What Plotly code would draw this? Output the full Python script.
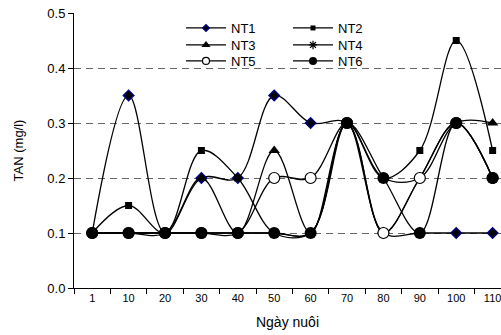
import plotly.graph_objects as go

days = ["1", "10", "20", "30", "40", "50", "60", "70", "80", "90", "100", "110"]
nt1 = [0.10, 0.35, 0.10, 0.20, 0.20, 0.35, 0.30, 0.30, 0.10, 0.10, 0.10, 0.10]
nt2 = [0.10, 0.15, 0.10, 0.25, 0.20, 0.10, 0.10, 0.30, 0.20, 0.25, 0.45, 0.25]
nt3 = [0.10, 0.10, 0.10, 0.20, 0.10, 0.25, 0.10, 0.30, 0.20, 0.20, 0.30, 0.30]
nt4 = [0.10, 0.10, 0.10, 0.10, 0.10, 0.10, 0.10, 0.30, 0.10, 0.20, 0.30, 0.20]
nt5 = [0.10, 0.10, 0.10, 0.10, 0.10, 0.20, 0.20, 0.30, 0.10, 0.20, 0.30, 0.20]
nt6 = [0.10, 0.10, 0.10, 0.10, 0.10, 0.10, 0.10, 0.30, 0.20, 0.10, 0.30, 0.20]
y_ticks = [0.0, 0.1, 0.2, 0.3, 0.4, 0.5]

FONT = "Liberation Sans, Arial, sans-serif"

# name, values, marker (plot), marker (legend), legend row
series = [
    ("NT1", nt1, dict(symbol="diamond", size=8, color="black", line=dict(color="#000080", width=1.5)),
     dict(symbol="diamond", size=5, color="black", line=dict(color="#000080", width=1.5)), "legend"),
    ("NT2", nt2, dict(symbol="square", size=7, color="black", line=dict(color="black", width=0)),
     dict(symbol="square", size=5, color="black", line=dict(color="black", width=0)), "legend"),
    ("NT3", nt3, dict(symbol="triangle-up", size=10, color="black", line=dict(color="black", width=0)),
     dict(symbol="triangle-up", size=8, color="black", line=dict(color="black", width=0)), "legend2"),
    ("NT4", nt4, dict(symbol="asterisk-open", size=9, color="black", line=dict(color="black", width=1.2)),
     dict(symbol="asterisk-open", size=7, color="black", line=dict(color="black", width=1.2)), "legend2"),
    ("NT5", nt5, dict(symbol="circle", size=11, color="white", line=dict(color="black", width=1.2)),
     dict(symbol="circle", size=7, color="white", line=dict(color="black", width=1.2)), "legend3"),
    ("NT6", nt6, dict(symbol="circle", size=12, color="black", line=dict(color="black", width=0)),
     dict(symbol="circle", size=8, color="black", line=dict(color="black", width=0)), "legend3"),
]

LINE = dict(color="black", width=1.3, shape="spline", smoothing=1.0)

fig = go.Figure()
for name, vals, mk, mk_leg, lg in series:
    fig.add_trace(go.Scatter(
        x=days, y=vals, name=name, mode="lines+markers",
        line=LINE, marker=mk, showlegend=False, cliponaxis=False,
    ))
for name, vals, mk, mk_leg, lg in series:
    fig.add_trace(go.Scatter(
        x=[None], y=[None], name=name, mode="lines+markers",
        line=dict(color="black", width=1.3), marker=mk_leg, legend=lg, showlegend=True,
    ))

# white box behind legend hiding part of the 0.4 gridline
fig.add_shape(type="rect", xref="paper", yref="paper", layer="between",
              x0=(160 - 74) / 427, x1=(383 - 74) / 427, y0=0.72, y1=0.99,
              fillcolor="white", line=dict(width=0))

def leg(ycenter):
    return dict(orientation="h", x=(181 - 74) / 427, y=1 - (ycenter - 13) / 275,
                xanchor="left", yanchor="middle",
                bgcolor="rgba(0,0,0,0)", font=dict(size=13, family=FONT),
                itemwidth=40, entrywidthmode="pixels", entrywidth=52,
                tracegroupgap=0)

fig.update_layout(
    width=501, height=335,
    margin=dict(l=74, r=0, t=13, b=47),
    paper_bgcolor="white", plot_bgcolor="white",
    font=dict(family=FONT, color="black"),
    showlegend=True,
    legend=leg(28), legend2=leg(45), legend3=leg(61),
)

fig.update_xaxes(
    type="category", range=[-0.5, 11.23],
    showline=True, linecolor="black", linewidth=1,
    ticks="outside", tickson="boundaries", ticklen=5, tickcolor="black",
    showgrid=False, zeroline=False,
    tickfont=dict(size=11, family=FONT),
    title=dict(text="Ngày nuôi", font=dict(size=14, family=FONT), standoff=13),
)
fig.update_yaxes(
    range=[0, 0.5], tickvals=y_ticks, tickformat=".1f",
    showline=True, linecolor="black", linewidth=1,
    ticks="outside", ticklen=5, tickcolor="black",
    showgrid=True, gridcolor="#666666", griddash="7px,5px", gridwidth=1,
    zeroline=False,
    tickfont=dict(size=13, family=FONT),
    title=dict(text="TAN (mg/l)", font=dict(size=13, family=FONT), standoff=20),
)

fig.write_html("out.html")
